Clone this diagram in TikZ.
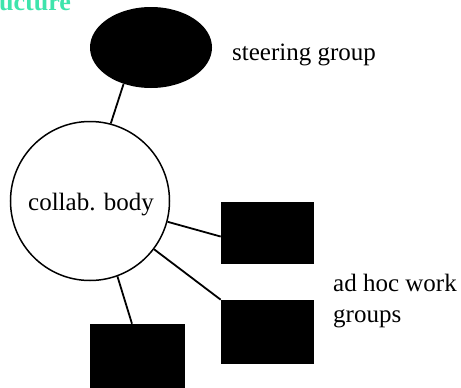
\documentclass[tikz,border=0pt]{standalone}
\usepackage{fontspec}
\setmainfont{Liberation Serif}
\usetikzlibrary{shapes.geometric}
\definecolor{titlecol}{RGB}{62,228,172}
\tikzset{
  conn/.style={draw=black, line width=1.8pt},
  blackbox/.style={rectangle, fill=black, draw=black, line width=0.6pt, inner sep=0pt},
  txt/.style={inner sep=0pt, font=\fontsize{25}{31}\selectfont},
}
\begin{document}
\begin{tikzpicture}[x=1pt, y=-1pt]
\useasboundingbox (0,0) rectangle (461,388);
\fill[white] (0,0) rectangle (461,388);
% title fragment
\node[anchor=base west, inner sep=0pt, text=titlecol, font=\bfseries\fontsize{26}{26}\selectfont] (title) at (-1,10) {ucture};
% steering group
\node[ellipse, fill=black, minimum width=122pt, minimum height=81pt, inner sep=0pt] (sg) at (151,47.5) {};
\node[txt, anchor=base west] (sgt) at (232,60) {steering group};
% collaborative body
\node[circle, draw=black, line width=1.5pt, fill=white, minimum size=159pt, inner sep=0pt] (cb) at (90,201) {};
\node[txt, anchor=base] (cbt) at (91,210) {collab. body};
% boxes
\node[blackbox, minimum width=92pt, minimum height=61pt] (b1) at (267,232.5) {};
\node[blackbox, minimum width=92pt, minimum height=63pt] (b2) at (267,331.5) {};
\node[blackbox, minimum width=94pt, minimum height=63pt] (b3) at (137,355.5) {};
\node[txt, anchor=base west, align=left] (adhoc) at (333,322) {ad hoc work\\groups};
% connectors
\draw[conn] (sg.233) -- (cb.75);
\draw[conn] (cb.-15) -- (b1.185.6);
\draw[conn] (cb.-37) -- (b2.north west);
\draw[conn] (cb.-70.7) -- (b3.99);
\end{tikzpicture}
\end{document}
